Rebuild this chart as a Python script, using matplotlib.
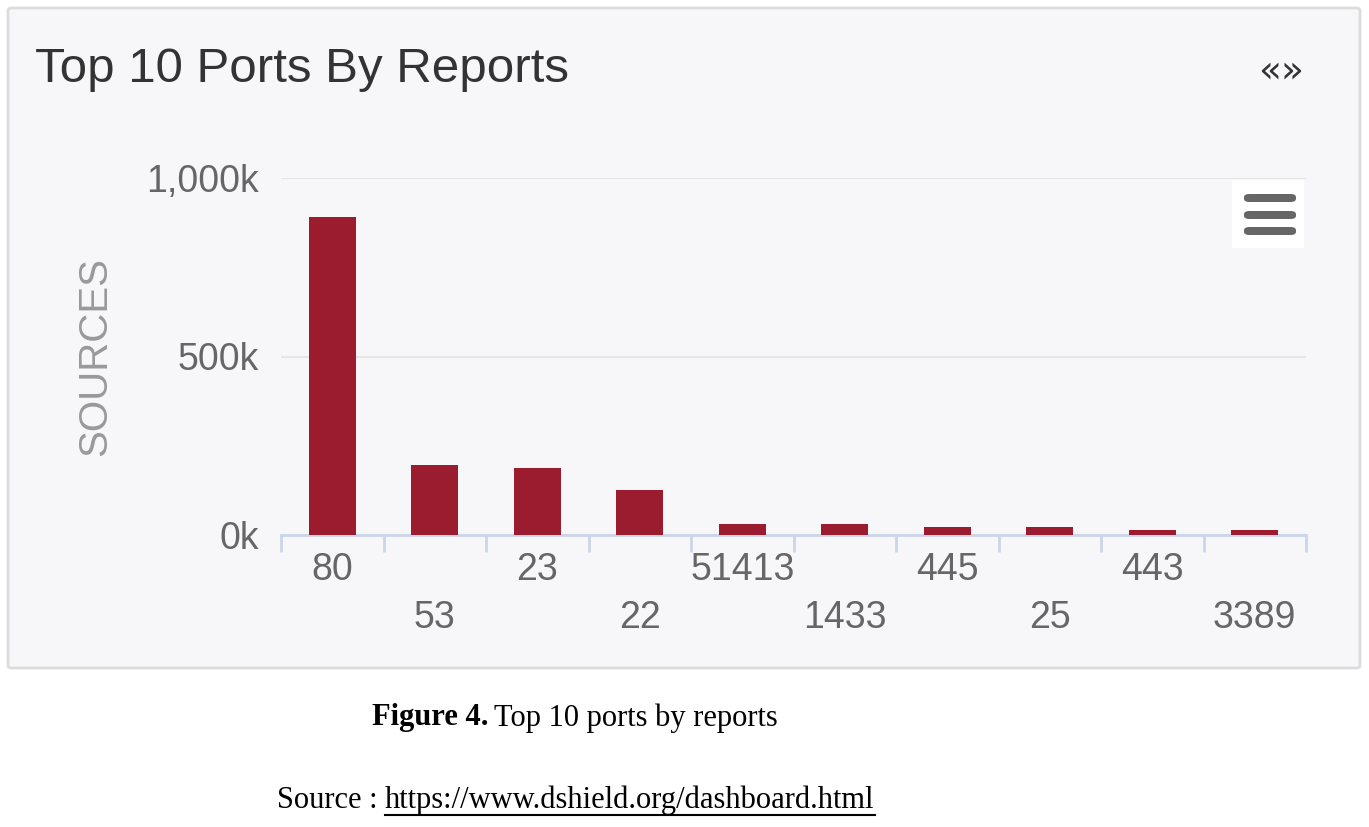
import matplotlib.pyplot as plt
from matplotlib.patches import FancyBboxPatch, Rectangle

# data (thousands of sources)
ports = ["80", "53", "23", "22", "51413", "1433", "445", "25", "443", "3389"]
sources_k = [891, 196, 188, 126, 31, 31, 22, 22, 14, 14]
y_ticks = [0, 500, 1000]
y_tick_labels = ["0k", "500k", "1,000k"]

W, H = 1369, 827
fig = plt.figure(figsize=(W / 100, H / 100), dpi=100)
fig.patch.set_facecolor("white")

# dashboard panel background
panel = FancyBboxPatch((8 / W, 1 - 668 / H), (1360 - 8) / W, (668 - 8) / H,
                       boxstyle="round,pad=0,rounding_size=0.003",
                       transform=fig.transFigure, facecolor="#f7f7f9",
                       edgecolor="#dcdcdc", linewidth=2, zorder=-5)
fig.patches.append(panel)

fig.text(35 / W, 1 - 70 / H, "Top 10 Ports By Reports", fontsize=35.5,
         color="#333333", family="Liberation Sans", va="center", ha="left")
fig.text(1281 / W, 1 - 72 / H, "\u00ab\u00bb", fontsize=27, color="#333333",
         family="DejaVu Sans", va="center", ha="center")

# main axes
ax = fig.add_axes([281 / W, 1 - 535 / H, (1306 - 281) / W, (535 - 178) / H])
ax.set_facecolor("none")
x = range(len(ports))
ax.bar(x, sources_k, width=0.46, color="#9b1c2e", zorder=3)
ax.set_xlim(-0.5, len(ports) - 0.5)
ax.set_ylim(0, 1000)

for s in ["top", "right", "left"]:
    ax.spines[s].set_visible(False)
ax.spines["bottom"].set_color("#ccd6eb")
ax.spines["bottom"].set_linewidth(2)

ax.set_yticks(y_ticks)
ax.set_yticklabels(y_tick_labels, family="Liberation Sans", fontsize=27, color="#666666")
ax.tick_params(axis="y", length=0, pad=16)
ax.yaxis.grid(True, color="#e6e6e6", linewidth=1.5)
ax.set_axisbelow(True)

# staggered x labels
ax.set_xticks(list(x))
ax.set_xticklabels([p if i % 2 == 0 else "\n" + p for i, p in enumerate(ports)],
                   family="Liberation Sans", fontsize=27, color="#666666",
                   linespacing=1.45)
ax.tick_params(axis="x", which="major", length=0, pad=12)
ax.set_xticks([i - 0.5 for i in range(len(ports) + 1)], minor=True)
ax.tick_params(axis="x", which="minor", length=12, width=2, color="#ccd6eb")

fig.text(95 / W, 1 - 357 / H, "SOURCES", rotation=90, fontsize=29,
         color="#999999", family="Liberation Sans", va="center", ha="center")

# menu button
fig.patches.append(Rectangle((1232 / W, 1 - 248 / H), 72 / W, 68 / H,
                             transform=fig.transFigure, facecolor="white",
                             edgecolor="none", zorder=4))
for yy in [198, 215, 231]:
    fig.patches.append(FancyBboxPatch((1244 / W, 1 - (yy + 4) / H), 52 / W, 8 / H,
                                      boxstyle="round,pad=0,rounding_size=0.004",
                                      transform=fig.transFigure, facecolor="#666666",
                                      edgecolor="none", zorder=5))

# caption below the panel
fig.text(372 / W, 1 - 718 / H, "Figure 4.", fontsize=22, fontweight="bold",
         family="Liberation Serif", va="center", ha="left")
fig.text(494 / W, 1 - 718 / H, "Top 10 ports by reports", fontsize=22,
         family="Liberation Serif", va="center", ha="left")
fig.text(277 / W, 1 - 800 / H, "Source : ", fontsize=22,
         family="Liberation Serif", va="center", ha="left")
url = fig.text(385 / W, 1 - 800 / H, "https://www.dshield.org/dashboard.html",
               fontsize=22, family="Liberation Serif", va="center", ha="left")

# underline the url to its rendered width
renderer = fig.canvas.get_renderer()
bb = url.get_window_extent(renderer).transformed(fig.transFigure.inverted())
fig.add_artist(plt.Line2D([bb.x0, bb.x1], [1 - 815 / H, 1 - 815 / H],
                          transform=fig.transFigure, color="black", linewidth=1.5))

fig.savefig("out.png", dpi=100)
